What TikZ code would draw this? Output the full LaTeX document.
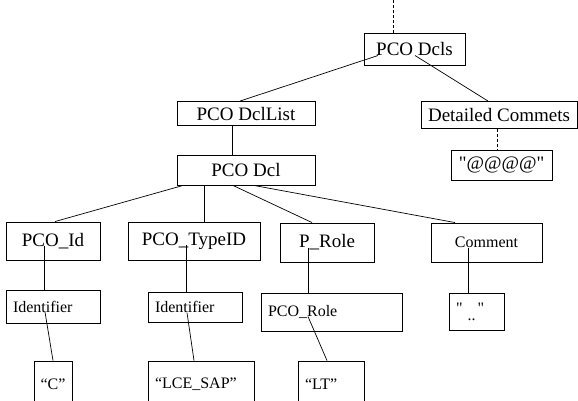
\documentclass[tikz,border=0pt]{standalone}
\usepackage{fontspec}
\setmainfont{Liberation Serif}
\usetikzlibrary{positioning}
\tikzset
{
    pconode/.style = {rectangle, draw=black, line width=0.9pt, align=center, inner sep=2pt, font=\fontsize{19}{22}\selectfont},
    smallnode/.style = {rectangle, draw=black, line width=0.9pt, align=center, inner sep=2pt, font=\fontsize{16}{19}\selectfont},
    leafnode/.style = {rectangle, draw=black, line width=0.9pt, align=left, inner xsep=7pt, inner ysep=2pt, font=\fontsize{16}{19}\selectfont},
    treeline/.style = {line width=0.7pt},
    dashline/.style = {line width=0.7pt, dash pattern=on 3pt off 2pt}
}

\begin{document}
\begin{tikzpicture}[x=1pt, y=-1pt]
\useasboundingbox (0,0) rectangle (578,400);
% upper part
\node[pconode, minimum width=101pt, minimum height=32pt] (dcls) at (414.5,49) {PCO Dcls};
\node[pconode, minimum width=138pt, minimum height=24pt] (dcllist) at (246,113.5) {PCO DclList};
\node[pconode, minimum width=156pt, minimum height=27pt] (detailed) at (499,115) {Detailed Commets};
\node[pconode, minimum width=101pt, minimum height=30pt] (at) at (501.5,165) {\textquotedbl@@@@\textquotedbl};
\node[pconode, minimum width=138pt, minimum height=30pt] (dcl) at (246,170) {PCO Dcl};
% children of PCO Dcl
\node[pconode, minimum width=94pt, minimum height=38pt] (pcoid) at (53,241) {PCO\_Id};
\node[pconode, minimum width=132pt, minimum height=38pt] (typeid) at (194,241) {PCO\_TypeID};
\node[pconode, minimum width=94pt, minimum height=39pt] (prole) at (327,242.5) {P\_Role};
\node[smallnode, minimum width=111pt, minimum height=39pt] (comment) at (486.5,242.5) {Comment};
% values
\node[leafnode, text width=80pt, minimum height=33pt] (ident1) at (53,306.5) {Identifier};
\node[leafnode, text width=80pt, minimum height=30pt] (ident2) at (195,307) {Identifier};
\node[leafnode, text width=127pt, minimum height=38pt] (pcorole) at (331.5,312) {PCO\_Role};
\node[leafnode, text width=41pt, minimum height=37pt] (dots) at (476.5,311.5) {\textquotedbl\hspace{5pt}\raisebox{-7pt}{..}\hspace{2pt}\textquotedbl};
\node[smallnode, minimum width=38pt, minimum height=46pt] (cval) at (53,384) {``C''};
\node[leafnode, text width=92pt, minimum height=46pt] (lce) at (201,384) {``LCE\_SAP''};
\node[leafnode, text width=52pt, minimum height=46pt] (lt) at (331,384) {``LT''};

\coordinate (top) at (393,0);
\draw[dashline] (top) -- ([xshift=-21.5pt]dcls.north);
\draw[treeline] ([xshift=-36.5pt]dcls.base) -- ([xshift=-6pt]dcllist.north);
\draw[treeline] ([xshift=0.5pt]dcls.base) -- ([xshift=-11pt]detailed.north);
\draw[dashline] ([xshift=-2pt]detailed.south) -- ([xshift=-4.5pt]at.north);
\draw[treeline] ([xshift=-14pt]dcllist.south) -- ([xshift=-14pt]dcl.north);
\draw[treeline] ([xshift=-63pt]dcl.south) -- ([xshift=2pt]pcoid.north);
\draw[treeline] ([xshift=-42pt]dcl.south) -- ([xshift=10pt]typeid.north);
\draw[treeline] ([xshift=-13pt]dcl.south) -- ([xshift=-15pt]prole.north);
\draw[treeline] ([xshift=8pt]dcl.south) -- ([xshift=-31.5pt]comment.north);
\draw[treeline] ([xshift=-9pt]pcoid.base) -- ([xshift=-9pt]ident1.north);
\draw[treeline] ([xshift=-8pt]typeid.base) -- ([xshift=-9pt]ident2.north);
\draw[treeline] ([xshift=-19pt]prole.base) -- ([xshift=-23.5pt]pcorole.north);
\draw[treeline] ([xshift=-18.5pt]comment.base) -- ([xshift=-8.5pt]dots.north);
\draw[treeline] ([xshift=-8pt]ident1.base) -- (cval.north);
\draw[treeline] ([xshift=-8pt]ident2.base) -- ([xshift=-7pt]lce.north);
\draw[treeline] ([xshift=-23.5pt]pcorole.base) -- ([xshift=-4pt]lt.north);
\end{tikzpicture}
\end{document}
